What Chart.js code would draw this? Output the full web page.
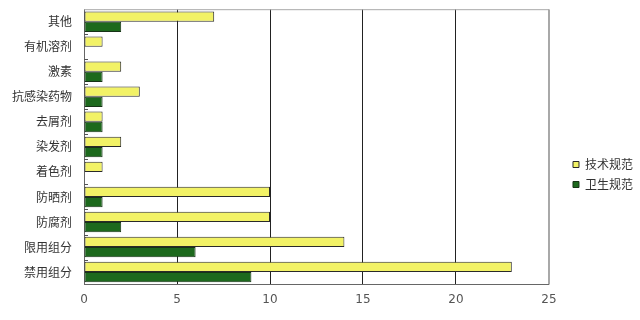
<!DOCTYPE html>
<html>
<head>
<meta charset="utf-8">
<script src="https://cdn.jsdelivr.net/npm/chart.js@4"></script>
<style>
  html, body { margin: 0; padding: 0; background: #fff; }
  #wrap { width: 640px; height: 320px; }
</style>
</head>
<body>
<div id="wrap"><canvas id="report"></canvas></div>
<script>
const categories = ['其他', '有机溶剂', '激素', '抗感染药物', '去屑剂', '染发剂', '着色剂', '防晒剂', '防腐剂', '限用组分', '禁用组分'];
const techSpec = [7, 1, 2, 3, 1, 2, 1, 10, 10, 14, 23];
const hygieneSpec = [2, 0, 1, 1, 1, 1, 0, 1, 2, 6, 9];
const xTicks = [0, 5, 10, 15, 20, 25];

// gray frame on top/right, little inside ticks on the category axis
const frame = {
    id: 'frame',
    afterLayout(chart) {
        // push legend a bit right and down like the original
        const lg = chart.legend;
        lg.left += 16; lg.right += 16;
        lg.top += 14; lg.bottom += 14;
    },
    afterDatasetsDraw(chart) {
        const { ctx, chartArea: a } = chart;
        const y = chart.scales.y;
        ctx.save();
        ctx.strokeStyle = '#a8a8a8';
        ctx.lineWidth = 1;
        ctx.beginPath();
        ctx.moveTo(a.left, a.top + 0.5);
        ctx.lineTo(a.right + 0.5, a.top + 0.5);
        ctx.lineTo(a.right + 0.5, a.bottom);
        ctx.stroke();
        ctx.strokeStyle = '#555';
        ctx.beginPath();
        for (let i = 1; i < categories.length; i++) {
            const py = Math.round(y.getPixelForValue(i - 0.5)) + 0.5;
            ctx.moveTo(a.left, py);
            ctx.lineTo(a.left + 4, py);
        }
        ctx.stroke();
        ctx.restore();
    }
};

new Chart(document.getElementById('report'), {
    type: 'bar',
    data: {
        labels: categories,
        datasets: [{
            label: '技术规范',
            data: techSpec,
            backgroundColor: '#f2f266',
            borderColor: '#2a2a2a',
            borderWidth: 1,
            borderSkipped: false
        }, {
            label: '卫生规范',
            data: hygieneSpec,
            backgroundColor: '#1d691d',
            borderColor: '#173317',
            borderWidth: 1,
            borderSkipped: false
        }]
    },
    options: {
        indexAxis: 'y',
        responsive: true,
        maintainAspectRatio: false,
        animation: false,
        layout: { padding: { top: 6, right: 13, bottom: 5, left: 10 } },
        datasets: { bar: { categoryPercentage: 0.82, barPercentage: 1 } },
        scales: {
            x: {
                min: 0,
                max: 25,
                afterBuildTicks: scale => { scale.ticks = xTicks.map(v => ({ value: v })); },
                grid: {
                    color: ctx => (ctx.tick && ctx.tick.value === 25) ? '#a8a8a8' : '#222',
                    drawTicks: false
                },
                border: { color: '#666', width: 1 },
                ticks: {
                    padding: 8,
                    color: '#555',
                    font: { family: 'DejaVu Sans', size: 12 }
                }
            },
            y: {
                grid: { drawOnChartArea: false, drawTicks: true, tickLength: 10, tickColor: 'rgba(0,0,0,0)' },
                border: { color: '#666', width: 1 },
                ticks: {
                    padding: 2,
                    color: '#333',
                    font: { family: 'Noto Sans CJK SC', size: 12 }
                }
            }
        },
        plugins: {
            legend: {
                position: 'right',
                labels: {
                    boxWidth: 6,
                    boxHeight: 6,
                    padding: 8,
                    color: '#333',
                    font: { family: 'Noto Sans CJK SC', size: 12 }
                }
            },
            tooltip: { enabled: false }
        }
    },
    plugins: [frame]
});
</script>
</body>
</html>
